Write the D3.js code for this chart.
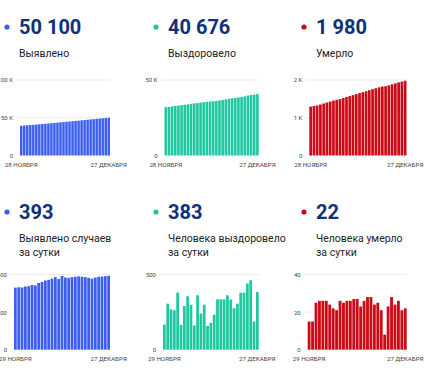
<!DOCTYPE html>
<html><head><meta charset="utf-8">
<script src="https://cdn.jsdelivr.net/npm/d3@7"></script>
<style>
html,body{margin:0;padding:0;background:#fff;}
svg{display:block;font-family:Roboto,"Noto Sans",sans-serif;}
</style></head>
<body><svg id="c" width="428" height="371"></svg>
<script>
// ---- data ----
const cumDates = ["28 ноября","29 ноября","30 ноября","1 декабря","2 декабря","3 декабря","4 декабря","5 декабря","6 декабря","7 декабря","8 декабря","9 декабря","10 декабря","11 декабря","12 декабря","13 декабря","14 декабря","15 декабря","16 декабря","17 декабря","18 декабря","19 декабря","20 декабря","21 декабря","22 декабря","23 декабря","24 декабря","25 декабря","26 декабря","27 декабря"];
const dailyDates = cumDates.slice(1);
const cumConfirmed = [39351,39681,40013,40344,40680,41018,41362,41704,42059,42419,42787,43159,43537,43923,44299,44691,45075,45457,45843,46231,46621,47009,47395,47777,48155,48539,48927,49316,49707,50100];
const cumRecovered = [32040,32207,32513,32781,33044,33423,33588,33878,34233,34532,34693,35055,35296,35595,35753,35932,36164,36499,36834,37169,37531,37864,38139,38445,38824,39203,39643,40105,40293,40676];
const cumDeaths = [1296,1311,1326,1351,1377,1403,1429,1453,1475,1496,1522,1547,1573,1599,1626,1653,1676,1702,1730,1758,1782,1807,1828,1836,1859,1887,1911,1937,1958,1980];
const dailyConfirmed = [330,332,331,336,338,344,342,355,360,368,372,378,386,376,392,384,382,386,388,390,388,386,382,378,384,388,389,391,393];
const dailyRecovered = [167,306,268,263,379,165,290,355,299,161,362,241,299,158,179,232,335,335,335,362,333,275,306,379,379,440,462,188,383];
const dailyDeaths = [15,15,25,26,26,26,24,22,21,26,25,26,26,27,27,23,26,28,28,24,25,21,8,23,28,24,26,21,22];
const headlineValues = ["50 100","40 676","1 980","393","383","22"];
const captions = [["Выявлено"],["Выздоровело"],["Умерло"],["Выявлено случаев","за сутки"],["Человека выздоровело","за сутки"],["Человека умерло","за сутки"]];
const ticksConfirmed = [0,50000,100000];
const ticksRecovered = [0,50000];
const ticksDeaths = [0,1000,2000];
const ticksDailyConfirmed = [0,200,400];
const ticksDailyRecovered = [0,500];
const ticksDailyDeaths = [0,20,40];
const xLabelsCum = ["28 НОЯБРЯ","27 ДЕКАБРЯ"];
const xLabelsDaily = ["29 НОЯБРЯ","27 ДЕКАБРЯ"];

// ---- layout / style ----
const BLUE="#3d5ff0", TEAL="#1fc8a0", RED="#cc0b16", NAVY="#10307a";
const kFmt = v => v>=1000 ? (v/1000)+" K" : String(v);
const nFmt = v => String(v);
const panels = [
 {colX:19, top:0,   bl:20,    br:110,   y0:155.5, yT:80,  dates:cumDates,   vals:cumConfirmed, ticks:ticksConfirmed, max:100000, fmt:kFmt, color:BLUE, xl:xLabelsCum},
 {colX:168,top:0,   bl:164.5, br:258.7, y0:155.5, yT:80,  dates:cumDates,   vals:cumRecovered, ticks:ticksRecovered, max:50000, fmt:kFmt, color:TEAL, xl:xLabelsCum},
 {colX:316,top:0,   bl:309.3, br:406.5, y0:155.5, yT:80,  dates:cumDates,   vals:cumDeaths,    ticks:ticksDeaths,    max:2000,  fmt:kFmt, color:RED,  xl:xLabelsCum},
 {colX:19, top:185, bl:14,    br:110,   y0:349.7, yT:274.5,dates:dailyDates,vals:dailyConfirmed,ticks:ticksDailyConfirmed,max:400,fmt:nFmt,color:BLUE, xl:xLabelsDaily},
 {colX:168,top:185, bl:163,   br:258.7, y0:349.7, yT:274.5,dates:dailyDates,vals:dailyRecovered,ticks:ticksDailyRecovered,max:500,fmt:nFmt,color:TEAL, xl:xLabelsDaily},
 {colX:316,top:185, bl:307.7, br:406.7, y0:349.7, yT:274.5,dates:dailyDates,vals:dailyDeaths,   ticks:ticksDailyDeaths,   max:40, fmt:nFmt,color:RED,  xl:xLabelsDaily}
];

const svg = d3.select("#c");
panels.forEach((p,i)=>{
  const g = svg.append("g");
  // header
  g.append("circle").attr("cx",p.colX-12).attr("cy",p.top+27).attr("r",2.6).attr("fill",p.color);
  g.append("text").attr("x",p.colX).attr("y",p.top+33.5).attr("font-size",20).attr("font-weight",700)
    .attr("fill",NAVY).text(headlineValues[i]);
  captions[i].forEach((c,j)=>{
    g.append("text").attr("x",p.colX).attr("y",p.top+57+j*13.7).attr("font-size",10.5)
      .attr("fill","#222").text(c);
  });
  // scales
  const x = d3.scaleBand().domain(p.dates).range([p.bl,p.br]).paddingInner(0.17).paddingOuter(0);
  const y = d3.scaleLinear().domain([0,p.max]).range([p.y0,p.yT]);
  // gridlines
  g.selectAll(".grid").data(p.ticks.filter(t=>t>0)).join("line")
    .attr("x1",p.bl-4).attr("x2",p.br).attr("y1",d=>y(d)).attr("y2",d=>y(d))
    .attr("stroke","#ececec").attr("stroke-width",1);
  // y labels
  const yAxis = d3.axisLeft(y).tickValues(p.ticks).tickFormat(p.fmt).tickSize(0).tickPadding(7);
  const ya = g.append("g").attr("transform",`translate(${p.bl},0)`).call(yAxis);
  ya.select(".domain").remove();
  ya.selectAll("text").attr("font-size",6).attr("fill","#444").attr("font-family","Roboto,sans-serif");
  // bars
  g.selectAll("rect").data(p.vals).join("rect")
    .attr("x",(d,k)=>x(p.dates[k])).attr("width",x.bandwidth())
    .attr("y",d=>y(d)).attr("height",d=>p.y0-y(d)).attr("fill",p.color);
  // x labels
  const first = p.dates[0], last = p.dates[p.dates.length-1];
  [[first,p.xl[0]],[last,p.xl[1]]].forEach(([d,t])=>{
    g.append("text").attr("x",x(d)+x.bandwidth()/2).attr("y",p.y0+11.5)
      .attr("text-anchor","middle").attr("font-size",6.2).attr("fill","#444").text(t);
  });
});
</script></body></html>
